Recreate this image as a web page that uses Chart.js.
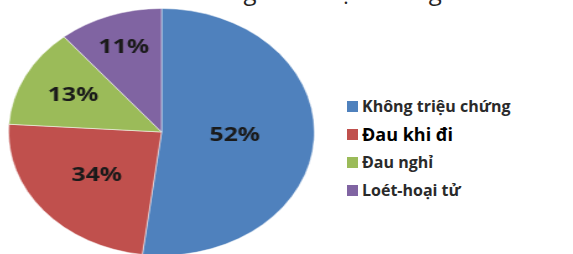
<!DOCTYPE html>
<html lang="vi">
<head>
<meta charset="UTF-8">
<title>Triệu chứng</title>
<script src="https://cdn.jsdelivr.net/npm/chart.js"></script>
<style>
  html, body { margin: 0; padding: 0; background: #fff; overflow: hidden; }
  body { width: 573px; height: 254px; position: relative; font-family: "Open Sans", sans-serif; }
  #title { position: absolute; left: 180px; top: -26px;
           font-family: "Open Sans", sans-serif; font-size: 24px; color: #222; white-space: nowrap; }
  /* the pie is stretched into an ellipse, like the original picture */
  #pieBox { position: absolute; left: 8px; top: 8px; width: 307px; height: 248px; }
  #pieChart { transform: scaleX(1.238); transform-origin: 0 0; }
  #legend { position: absolute; left: 347px; top: 92px; }
  .item { display: flex; align-items: center; height: 28px; color: #2a2a2a;
          font-weight: 700; font-size: 16px; white-space: nowrap; }
  .item span.box { width: 11px; height: 11px; margin-right: 4px; }
  .item.big { font-size: 18px; color: #000; }
</style>
</head>
<body>
<div id="title">Những biểu hiện chung</div>
<div id="pieBox"><canvas id="pieChart" width="248" height="248"></canvas></div>
<div id="legend"></div>

<script>
// data (slice sizes) and the printed labels
const categories = ['Không triệu chứng', 'Đau khi đi', 'Đau nghỉ', 'Loét-hoại tử'];
const sliceValues = [52, 24, 13, 11];
const sliceLabels = ['52%', '34%', '13%', '11%'];
const colors = ['#4F81BD', '#C0504D', '#9BBB59', '#8064A2'];

// how far out (fraction of radius) each percentage sits
const labelDist = [0.48, 0.55, 0.65, 0.73];

const sliceLabelPlugin = {
    id: 'sliceLabels',
    afterDatasetsDraw(chart) {
        const ctx = chart.ctx;
        const meta = chart.getDatasetMeta(0);
        ctx.save();
        ctx.font = 'bold 20px "Open Sans"';
        ctx.fillStyle = '#1a1a1a';
        ctx.textAlign = 'center';
        ctx.textBaseline = 'middle';
        meta.data.forEach((arc, i) => {
            const mid = (arc.startAngle + arc.endAngle) / 2;
            const r = arc.outerRadius * labelDist[i];
            ctx.fillText(sliceLabels[i], arc.x + Math.cos(mid) * r, arc.y + Math.sin(mid) * r);
        });
        ctx.restore();
    }
};

new Chart(document.getElementById('pieChart').getContext('2d'), {
    type: 'pie',
    data: {
        labels: categories,
        datasets: [{
            data: sliceValues,
            backgroundColor: colors,
            borderColor: 'rgba(255,255,255,0.5)',
            borderWidth: 1
        }]
    },
    options: {
        responsive: false,
        animation: false,
        layout: { padding: 0 },
        plugins: {
            legend: { display: false },
            tooltip: { enabled: false }
        }
    },
    plugins: [sliceLabelPlugin]
});

// legend on the right
const legend = document.getElementById('legend');
categories.forEach((name, i) => {
    const row = document.createElement('div');
    row.className = 'item' + (i === 1 ? ' big' : '');
    row.innerHTML = '<span class="box" style="background:' + colors[i] + '"></span>' + name;
    legend.appendChild(row);
});
</script>
</body>
</html>
